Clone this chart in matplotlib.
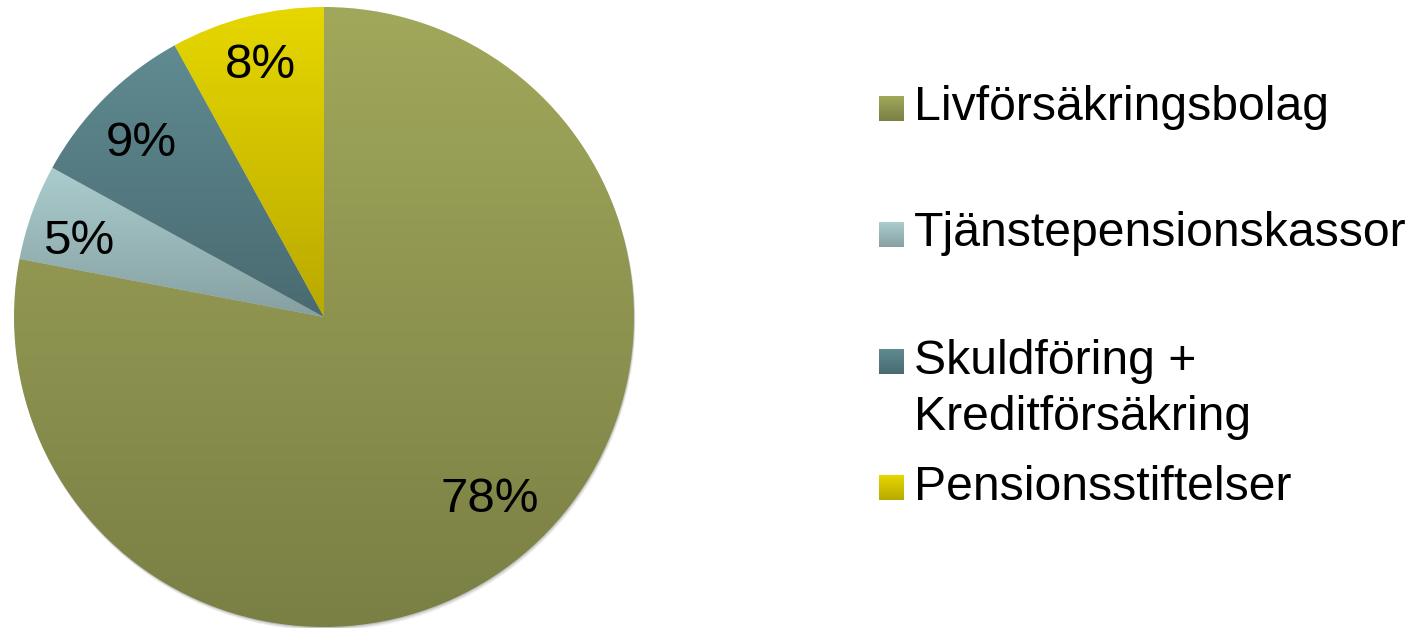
import numpy as np
import matplotlib
matplotlib.use("Agg")
import matplotlib.pyplot as plt
from matplotlib.colors import to_rgb
from matplotlib.patches import Circle

# Andel per aktor (procent)
kategorier = ["Livförsäkringsbolag", "Tjänstepensionskassor",
              "Skuldföring +\nKreditförsäkring", "Pensionsstiftelser"]
andelar = [78, 5, 9, 8]

# gradient topp -> botten for varje tartbit
farg_topp = ["#a1a85b", "#abcdcd", "#5f8b91", "#e6d700"]
farg_botten = ["#7a7f44", "#86a0a2", "#4a6a71", "#b9a900"]

plt.rcParams['font.family'] = ['Liberation Sans', 'DejaVu Sans']

fig = plt.figure(figsize=(14.14, 6.28), dpi=100)
ax = fig.add_axes([(324 - 310) / 1414, (311 - 310) / 628, 620 / 1414, 620 / 628])


def gradient(c1, c2, n=256):
    a = np.array(to_rgb(c1))
    b = np.array(to_rgb(c2))
    t = np.linspace(0, 1, n)[:, None, None]
    return a + (b - a) * t


# svag skugga under tartan
for k, a in zip([0.012, 0.008, 0.004], [0.06, 0.08, 0.12]):
    ax.add_patch(Circle((k * 0.4, -k), 1.0, color='black', alpha=a,
                        lw=0, zorder=0))

wedges, texts, autotexts = ax.pie(andelar, startangle=90, counterclock=False,
                                  radius=1.0, autopct='%1.0f%%', pctdistance=0.82,
                                  textprops={'fontsize': 35.5, 'color': 'black'},
                                  wedgeprops={'linewidth': 0})
autotexts[0].set_position((0.535, -0.59))
autotexts[1].set_position((-0.79, 0.245))
autotexts[2].set_position((-0.59, 0.56))
autotexts[3].set_position((-0.205, 0.81))

for w, c1, c2 in zip(wedges, farg_topp, farg_botten):
    ext = w.get_path().get_extents(w.get_patch_transform())
    w.set_facecolor('none')
    im = ax.imshow(gradient(c1, c2), extent=[ext.x0, ext.x1, ext.y0, ext.y1],
                   origin='upper', aspect='auto', zorder=1)
    im.set_clip_path(w)

for t in autotexts:
    t.set_zorder(5)

ax.set_xlim(-1.03, 1.03)
ax.set_ylim(-1.03, 1.03)
ax.set_aspect('equal')
ax.axis('off')
# behall samma skala: radie 310 px
ax.set_position([(324 - 319.3) / 1414, (311 - 319.3) / 628, 638.6 / 1414, 638.6 / 628])

# legend, ritad for hand
lg = fig.add_axes([0, 0, 1, 1], zorder=-1)
rad_y = [108, 234, 361, 487]
for i, (namn, c1, c2) in enumerate(zip(kategorier, farg_topp, farg_botten)):
    y = rad_y[i]
    lg.imshow(gradient(c1, c2), extent=[879, 904, y + 13, y - 12],
              aspect='auto', zorder=2)
    rader = namn.split("\n")
    for j, r in enumerate(rader):
        lg.text(914, y + j * 57, r, fontsize=34.7, va='center', ha='left')
lg.set_xlim(0, 1414)
lg.set_ylim(628, 0)
lg.axis('off')

fig.savefig("out.png", dpi=100)
